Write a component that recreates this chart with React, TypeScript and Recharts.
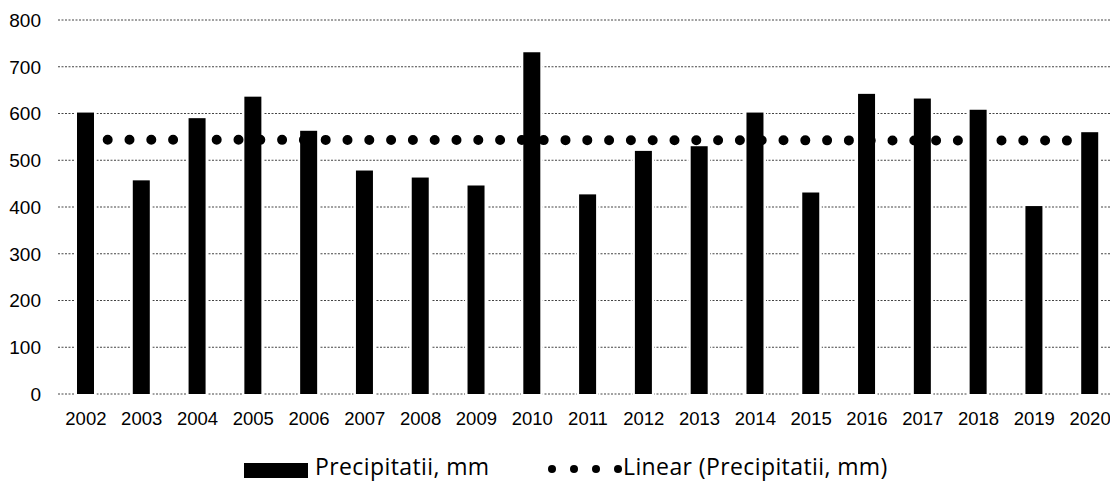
import React from "react";
import {
  ComposedChart,
  Bar,
  Line,
  XAxis,
  YAxis,
  CartesianGrid,
} from "recharts";

const years = [
  "2002", "2003", "2004", "2005", "2006", "2007", "2008", "2009", "2010", "2011",
  "2012", "2013", "2014", "2015", "2016", "2017", "2018", "2019", "2020",
];
const precipitation = [
  602, 457, 590, 636, 563, 478, 463, 446, 731, 427, 520, 530, 602, 431, 642, 632, 608, 402, 560,
];
// linear trend line, read at its two ends
const trendStart = 544;
const trendEnd = 542;
const yTicks = [0, 100, 200, 300, 400, 500, 600, 700, 800];

const seriesName = "Precipitatii, mm";
const trendName = "Linear (Precipitatii, mm)";

const data = years.map((year, i) => ({
  year,
  precip: precipitation[i],
  trend: i === 0 ? trendStart : i === years.length - 1 ? trendEnd : null,
}));

// black bar with a thin white halo, the gridlines stop short of it
function HaloBar(props: any) {
  const { x, y, width, height } = props;
  if (width == null || height == null) return null;
  return (
    <g>
      <rect x={x - 2.5} y={y - 2.5} width={width + 5} height={height + 5} fill="#fff" />
      <rect x={x} y={y} width={width} height={height} fill="#000" />
    </g>
  );
}

function YearTick(props: any) {
  const { x, y, payload } = props;
  return (
    <text
      x={x}
      y={y + 23}
      textAnchor="middle"
      fontSize={18.5}
      fontFamily="'Liberation Sans', Arial, sans-serif"
      fill="#000"
    >
      {payload.value}
    </text>
  );
}

function ValueTick(props: any) {
  const { y, payload } = props;
  return (
    <text
      x={41}
      y={y}
      dy="0.36em"
      textAnchor="end"
      fontSize={19}
      fontFamily="'Liberation Sans', Arial, sans-serif"
      fill="#000"
    >
      {payload.value}
    </text>
  );
}

const legendFont: React.CSSProperties = {
  fontFamily: "'Open Sans', sans-serif",
  fontSize: 23,
  letterSpacing: "0.4px",
  color: "#000",
  lineHeight: "26px",
  whiteSpace: "nowrap",
};

function ChartLegend() {
  return (
    <div style={{ position: "absolute", left: 0, top: 453, width: 1110, height: 27 }}>
      <div style={{ position: "absolute", left: 244, top: 10, width: 64, height: 15, background: "#000" }} />
      <div style={{ ...legendFont, position: "absolute", left: 315, top: 0 }}>{seriesName}</div>
      {[0, 1, 2, 3].map((i) => (
        <div
          key={i}
          style={{
            position: "absolute",
            left: 548 + i * 22,
            top: 12,
            width: 8,
            height: 8,
            borderRadius: 4,
            background: "#000",
          }}
        />
      ))}
      <div style={{ ...legendFont, position: "absolute", left: 623, top: 0 }}>{trendName}</div>
    </div>
  );
}

export default function App() {
  return (
    <div
      style={{
        position: "absolute",
        left: 0,
        top: 0,
        width: 1110,
        height: 482,
        overflow: "hidden",
        background: "#fff",
      }}
    >
      <ComposedChart
        width={1120}
        height={482}
        data={data}
        margin={{ top: 20, right: 2, left: 0, bottom: 58 }}
        barCategoryGap={0}
      >
        <CartesianGrid
          vertical={false}
          stroke="#444"
          strokeDasharray="2 1.5"
          strokeWidth={1}
        />
        <XAxis
          dataKey="year"
          axisLine={false}
          tickLine={false}
          height={30}
          interval={0}
          tick={<YearTick />}
        />
        <YAxis
          width={58}
          domain={[0, 800]}
          ticks={yTicks}
          interval={0}
          axisLine={false}
          tickLine={false}
          tick={<ValueTick />}
        />
        <Bar
          dataKey="precip"
          name={seriesName}
          barSize={17}
          shape={<HaloBar />}
          isAnimationActive={false}
        />
        <Line
          dataKey="trend"
          name={trendName}
          type="linear"
          stroke="#000"
          strokeWidth={10}
          strokeLinecap="round"
          strokeDasharray="0 21.8"
          dot={false}
          activeDot={false}
          connectNulls
          isAnimationActive={false}
        />
      </ComposedChart>
      <ChartLegend />
    </div>
  );
}
